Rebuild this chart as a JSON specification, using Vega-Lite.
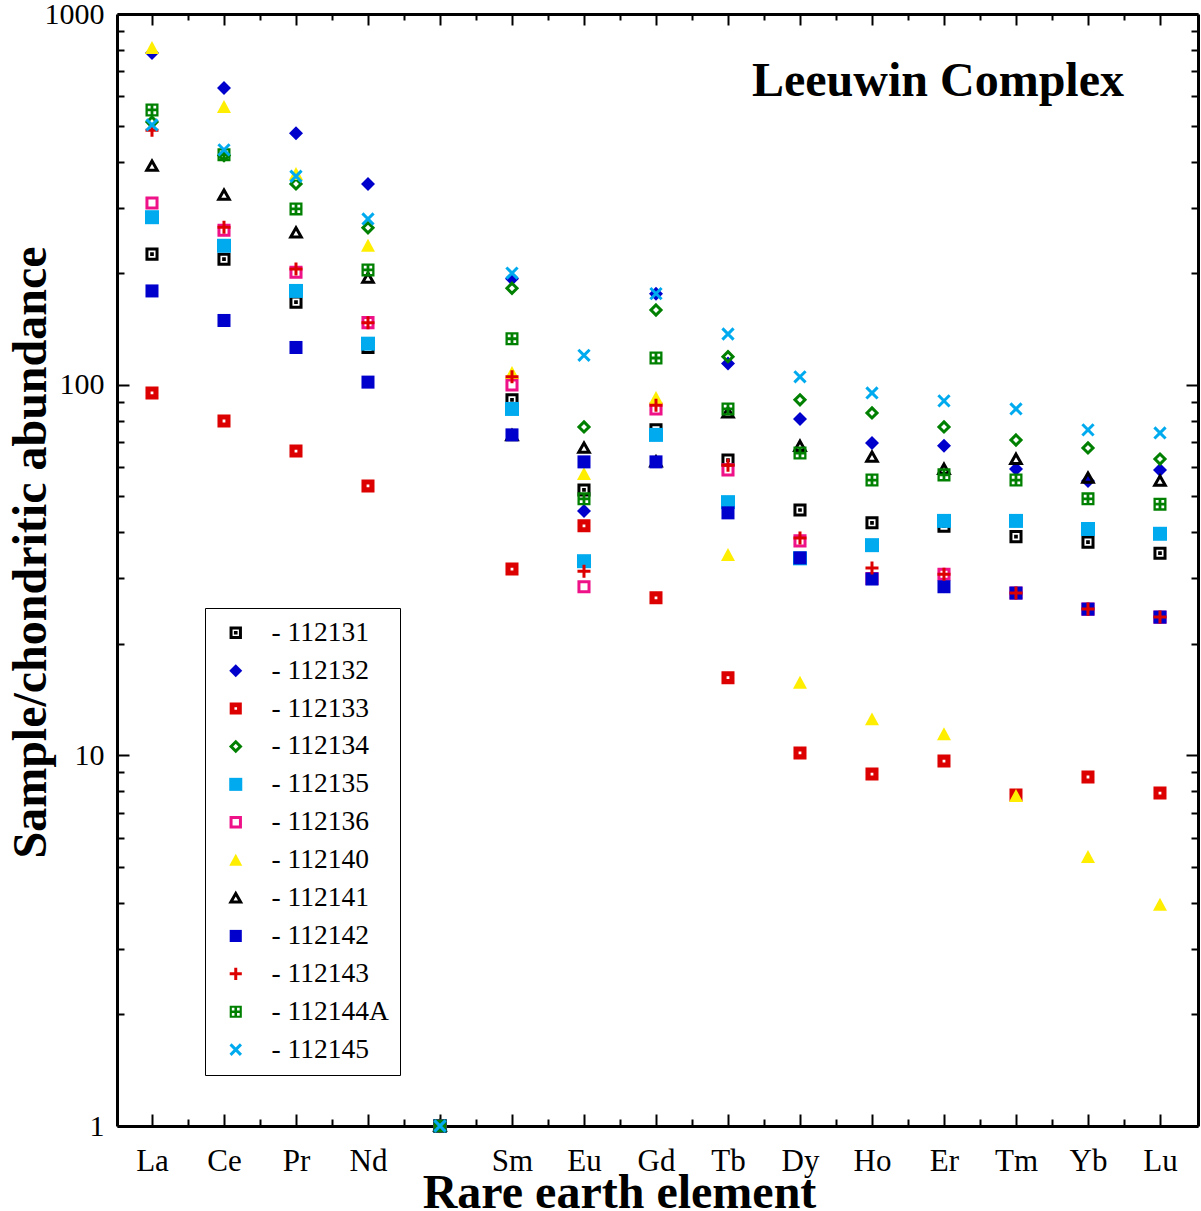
{
  "$schema": "https://vega.github.io/schema/vega-lite/v6.json",
  "width": 1081,
  "height": 1112,
  "autosize": {"type": "none"},
  "padding": {"left": 117, "top": 14, "right": 3, "bottom": 85},
  "background": "white",
  "config": {"view": {"stroke": null}, "font": "Liberation Serif"},
  "datasets": {
    "ree": [
      {"sample":"112131","pos":1,"value":225},{"sample":"112131","pos":2,"value":218},{"sample":"112131","pos":3,"value":167},{"sample":"112131","pos":4,"value":126},{"sample":"112131","pos":5,"value":1},{"sample":"112131","pos":6,"value":91},{"sample":"112131","pos":7,"value":52},{"sample":"112131","pos":8,"value":75.5},{"sample":"112131","pos":9,"value":62.6},{"sample":"112131","pos":10,"value":45.9},{"sample":"112131","pos":11,"value":42.4},{"sample":"112131","pos":12,"value":41.5},{"sample":"112131","pos":13,"value":38.9},{"sample":"112131","pos":14,"value":37.6},{"sample":"112131","pos":15,"value":35.1},
      {"sample":"112132","pos":1,"value":785},{"sample":"112132","pos":2,"value":631},{"sample":"112132","pos":3,"value":477},{"sample":"112132","pos":4,"value":348},{"sample":"112132","pos":5,"value":1},{"sample":"112132","pos":6,"value":193},{"sample":"112132","pos":7,"value":45.6},{"sample":"112132","pos":8,"value":176},{"sample":"112132","pos":9,"value":114},{"sample":"112132","pos":10,"value":80.8},{"sample":"112132","pos":11,"value":69.6},{"sample":"112132","pos":12,"value":68.4},{"sample":"112132","pos":13,"value":59.2},{"sample":"112132","pos":14,"value":55},{"sample":"112132","pos":15,"value":58.9},
      {"sample":"112133","pos":1,"value":95},{"sample":"112133","pos":2,"value":79.8},{"sample":"112133","pos":3,"value":66.2},{"sample":"112133","pos":4,"value":53.3},{"sample":"112133","pos":5,"value":1},{"sample":"112133","pos":6,"value":31.8},{"sample":"112133","pos":7,"value":41.6},{"sample":"112133","pos":8,"value":26.6},{"sample":"112133","pos":9,"value":16.2},{"sample":"112133","pos":10,"value":10.15},{"sample":"112133","pos":11,"value":8.9},{"sample":"112133","pos":12,"value":9.65},{"sample":"112133","pos":13,"value":7.82},{"sample":"112133","pos":14,"value":8.74},{"sample":"112133","pos":15,"value":7.91},
      {"sample":"112134","pos":1,"value":511},{"sample":"112134","pos":2,"value":415},{"sample":"112134","pos":3,"value":348},{"sample":"112134","pos":4,"value":265},{"sample":"112134","pos":5,"value":1},{"sample":"112134","pos":6,"value":182},{"sample":"112134","pos":7,"value":76.9},{"sample":"112134","pos":8,"value":159},{"sample":"112134","pos":9,"value":119},{"sample":"112134","pos":10,"value":91},{"sample":"112134","pos":11,"value":83.9},{"sample":"112134","pos":12,"value":76.9},{"sample":"112134","pos":13,"value":70.9},{"sample":"112134","pos":14,"value":67.5},{"sample":"112134","pos":15,"value":63},
      {"sample":"112135","pos":1,"value":283},{"sample":"112135","pos":2,"value":237},{"sample":"112135","pos":3,"value":179},{"sample":"112135","pos":4,"value":129},{"sample":"112135","pos":5,"value":1},{"sample":"112135","pos":6,"value":86},{"sample":"112135","pos":7,"value":33.4},{"sample":"112135","pos":8,"value":73.2},{"sample":"112135","pos":9,"value":48.2},{"sample":"112135","pos":10,"value":34},{"sample":"112135","pos":11,"value":36.9},{"sample":"112135","pos":12,"value":42.9},{"sample":"112135","pos":13,"value":42.9},{"sample":"112135","pos":14,"value":40.8},{"sample":"112135","pos":15,"value":39.6},
      {"sample":"112136","pos":1,"value":309},{"sample":"112136","pos":2,"value":261},{"sample":"112136","pos":3,"value":201},{"sample":"112136","pos":4,"value":147},{"sample":"112136","pos":5,"value":1},{"sample":"112136","pos":6,"value":99.8},{"sample":"112136","pos":7,"value":28.5},{"sample":"112136","pos":8,"value":86},{"sample":"112136","pos":9,"value":58.9},{"sample":"112136","pos":10,"value":37.9},{"sample":"112136","pos":11,"value":30},{"sample":"112136","pos":12,"value":30.8},{"sample":"112136","pos":13,"value":27.4},{"sample":"112136","pos":14,"value":24.8},{"sample":"112136","pos":15,"value":23.6},
      {"sample":"112140","pos":1,"value":809},{"sample":"112140","pos":2,"value":561},{"sample":"112140","pos":3,"value":370},{"sample":"112140","pos":4,"value":237},{"sample":"112140","pos":5,"value":1},{"sample":"112140","pos":6,"value":107.5},{"sample":"112140","pos":7,"value":57.4},{"sample":"112140","pos":8,"value":92},{"sample":"112140","pos":9,"value":34.7},{"sample":"112140","pos":10,"value":15.7},{"sample":"112140","pos":11,"value":12.5},{"sample":"112140","pos":12,"value":11.4},{"sample":"112140","pos":13,"value":7.77},{"sample":"112140","pos":14,"value":5.32},{"sample":"112140","pos":15,"value":3.95},
      {"sample":"112141","pos":1,"value":389},{"sample":"112141","pos":2,"value":325},{"sample":"112141","pos":3,"value":257},{"sample":"112141","pos":4,"value":194},{"sample":"112141","pos":5,"value":1},{"sample":"112141","pos":6,"value":73},{"sample":"112141","pos":7,"value":67.5},{"sample":"112141","pos":8,"value":62},{"sample":"112141","pos":9,"value":84},{"sample":"112141","pos":10,"value":68.3},{"sample":"112141","pos":11,"value":63.8},{"sample":"112141","pos":12,"value":59.2},{"sample":"112141","pos":13,"value":63},{"sample":"112141","pos":14,"value":56},{"sample":"112141","pos":15,"value":55},
      {"sample":"112142","pos":1,"value":179},{"sample":"112142","pos":2,"value":149},{"sample":"112142","pos":3,"value":126},{"sample":"112142","pos":4,"value":101.6},{"sample":"112142","pos":5,"value":1},{"sample":"112142","pos":6,"value":73.2},{"sample":"112142","pos":7,"value":61.9},{"sample":"112142","pos":8,"value":61.9},{"sample":"112142","pos":9,"value":45.1},{"sample":"112142","pos":10,"value":34.1},{"sample":"112142","pos":11,"value":29.9},{"sample":"112142","pos":12,"value":28.5},{"sample":"112142","pos":13,"value":27.4},{"sample":"112142","pos":14,"value":24.8},{"sample":"112142","pos":15,"value":23.6},
      {"sample":"112143","pos":1,"value":486},{"sample":"112143","pos":2,"value":266},{"sample":"112143","pos":3,"value":205},{"sample":"112143","pos":4,"value":147},{"sample":"112143","pos":5,"value":1},{"sample":"112143","pos":6,"value":105},{"sample":"112143","pos":7,"value":31.4},{"sample":"112143","pos":8,"value":88},{"sample":"112143","pos":9,"value":60.6},{"sample":"112143","pos":10,"value":38.6},{"sample":"112143","pos":11,"value":32},{"sample":"112143","pos":12,"value":30.8},{"sample":"112143","pos":13,"value":27.4},{"sample":"112143","pos":14,"value":24.8},{"sample":"112143","pos":15,"value":23.6},
      {"sample":"112144A","pos":1,"value":551},{"sample":"112144A","pos":2,"value":417},{"sample":"112144A","pos":3,"value":298},{"sample":"112144A","pos":4,"value":204},{"sample":"112144A","pos":5,"value":1},{"sample":"112144A","pos":6,"value":133},{"sample":"112144A","pos":7,"value":49.2},{"sample":"112144A","pos":8,"value":118},{"sample":"112144A","pos":9,"value":86},{"sample":"112144A","pos":10,"value":65.4},{"sample":"112144A","pos":11,"value":55.3},{"sample":"112144A","pos":12,"value":57.1},{"sample":"112144A","pos":13,"value":55.3},{"sample":"112144A","pos":14,"value":49.2},{"sample":"112144A","pos":15,"value":47.6},
      {"sample":"112145","pos":1,"value":502},{"sample":"112145","pos":2,"value":430},{"sample":"112145","pos":3,"value":365},{"sample":"112145","pos":4,"value":280},{"sample":"112145","pos":5,"value":1},{"sample":"112145","pos":6,"value":200},{"sample":"112145","pos":7,"value":120},{"sample":"112145","pos":8,"value":176},{"sample":"112145","pos":9,"value":137},{"sample":"112145","pos":10,"value":105},{"sample":"112145","pos":11,"value":95},{"sample":"112145","pos":12,"value":90.4},{"sample":"112145","pos":13,"value":86},{"sample":"112145","pos":14,"value":75.5},{"sample":"112145","pos":15,"value":74.1}
    ],
    "caption": [{"label": "Leeuwin Complex", "pos": 14.5, "value": 601}]
  },
  "data": {"name": "ree"},
  "layer": [
    {
      "mark": {"type": "point", "opacity": 1, "size": 196, "strokeWidth": 3},
      "encoding": {
        "x": {
          "field": "pos", "type": "quantitative",
          "scale": {"domain": [0.514, 15.528], "nice": false, "zero": false},
          "axis": {
            "orient": "bottom",
            "values": [1,1.5,2,2.5,3,3.5,4,4.5,5,5.5,6,6.5,7,7.5,8,8.5,9,9.5,10,10.5,11,11.5,12,12.5,13,13.5,14,14.5,15],
            "labelExpr": "datum.value % 1 == 0 ? ['','La','Ce','Pr','Nd','','Sm','Eu','Gd','Tb','Dy','Ho','Er','Tm','Yb','Lu'][datum.value] : ''",
            "tickSize": {"condition": {"test": "datum.value % 1 == 0", "value": -12}, "value": -7},
            "tickWidth": 2, "tickColor": "black",
            "domainWidth": 3, "domainColor": "black", "grid": false,
            "labelFont": "Liberation Serif", "labelFontSize": 31, "labelColor": "black",
            "labelPadding": 32, "labelFlush": false, "labelOverlap": false, "labelBound": false,
            "title": "Rare earth element", "titleFont": "Liberation Serif", "titleFontSize": 48,
            "titleFontWeight": "bold", "titleColor": "black",
            "titleX": 502, "titleY": 81, "titleBaseline": "alphabetic", "titleAlign": "center"
          }
        },
        "y": {
          "field": "value", "type": "quantitative",
          "scale": {"type": "log", "domain": [1, 1000], "nice": false},
          "axis": {
            "orient": "left",
            "values": [1,2,3,4,5,6,7,8,9,10,20,30,40,50,60,70,80,90,100,200,300,400,500,600,700,800,900,1000],
            "labelExpr": "indexof([1,10,100,1000], datum.value) >= 0 ? format(datum.value, 'd') : ''",
            "tickSize": {"condition": {"test": "indexof([1,10,100,1000], datum.value) >= 0", "value": -12}, "value": -7},
            "tickWidth": 2, "tickColor": "black",
            "domainWidth": 3, "domainColor": "black", "grid": false,
            "labelFont": "Liberation Serif", "labelFontSize": 30, "labelColor": "black",
            "labelPadding": 25, "labelFlush": false, "labelOverlap": false, "labelBound": false,
            "title": "Sample/chondritic abundance", "titleFont": "Liberation Serif", "titleFontSize": 48,
            "titleFontWeight": "bold", "titleColor": "black",
            "titleX": -72, "titleY": 538, "titleAngle": -90, "titleBaseline": "alphabetic", "titleAlign": "center"
          }
        },
        "shape": {
          "field": "sample", "type": "nominal",
          "scale": {
            "domain": ["112131","112132","112133","112134","112135","112136","112140","112141","112142","112143","112144A","112145"],
            "range": [
              "M-0.72,-0.72H0.72V0.72H-0.72Z M-0.05,-0.05H0.05V0.05H-0.05Z",
              "M0,-1L1,0L0,1L-1,0Z",
              "M-0.93,-0.93H0.93V0.93H-0.93Z M-0.2,-0.2V0.2H0.2V-0.2Z",
              "M0,-0.72L0.72,0L0,0.72L-0.72,0Z",
              "M-1,-1H1V1H-1Z",
              "M-0.72,-0.72H0.72V0.72H-0.72Z",
              "M0,-1L1,0.85L-1,0.85Z",
              "M0,-0.7L0.75,0.62L-0.75,0.62Z",
              "M-0.93,-0.93H0.93V0.93H-0.93Z",
              "M-0.93,0H0.93M0,-0.93V0.93",
              "M-0.93,-0.93H0.93V0.93H-0.93Z M-0.6,-0.6V-0.2H-0.2V-0.6Z M0.2,-0.6V-0.2H0.6V-0.6Z M-0.6,0.2V0.6H-0.2V0.2Z M0.2,0.2V0.6H0.6V0.2Z",
              "M-0.8,-0.8L0.8,0.8M-0.8,0.8L0.8,-0.8"
            ]
          },
          "legend": {
            "orient": "none", "legendX": 88, "legendY": 594, "title": null,
            "labelFont": "Liberation Serif", "labelFontSize": 27.5, "labelColor": "black",
            "labelExpr": "'- ' + datum.label + ' '",
            "strokeColor": "black", "fillColor": "white", "padding": 11, "rowPadding": 8.9,
            "symbolSize": 170, "symbolStrokeWidth": 3, "symbolOffset": 6, "labelOffset": 22
          }
        },
        "fill": {
          "field": "sample", "type": "nominal",
          "scale": {
            "domain": ["112131","112132","112133","112134","112135","112136","112140","112141","112142","112143","112144A","112145"],
            "range": ["transparent","#0000CC","#DD0000","transparent","#00AAEE","transparent","#FFEE00","transparent","#0000CC","transparent","#008000","transparent"]
          },
          "legend": {
            "orient": "none", "legendX": 88, "legendY": 594, "title": null,
            "labelFont": "Liberation Serif", "labelFontSize": 27.5, "labelColor": "black",
            "labelExpr": "'- ' + datum.label + ' '",
            "strokeColor": "black", "fillColor": "white", "padding": 11, "rowPadding": 8.9,
            "symbolSize": 170, "symbolStrokeWidth": 3, "symbolOffset": 6, "labelOffset": 22
          }
        },
        "stroke": {
          "field": "sample", "type": "nominal",
          "scale": {
            "domain": ["112131","112132","112133","112134","112135","112136","112140","112141","112142","112143","112144A","112145"],
            "range": ["#000000","transparent","transparent","#008000","transparent","#EE1188","transparent","#000000","transparent","#DD0000","transparent","#00AAEE"]
          },
          "legend": {
            "orient": "none", "legendX": 88, "legendY": 594, "title": null,
            "labelFont": "Liberation Serif", "labelFontSize": 27.5, "labelColor": "black",
            "labelExpr": "'- ' + datum.label + ' '",
            "strokeColor": "black", "fillColor": "white", "padding": 11, "rowPadding": 8.9,
            "symbolSize": 170, "symbolStrokeWidth": 3, "symbolOffset": 6, "labelOffset": 22
          }
        }
      }
    },
    {
      "mark": {"type": "point", "opacity": 0},
      "encoding": {
        "x": {
          "field": "pos", "type": "quantitative",
          "scale": {"domain": [0.514, 15.528], "nice": false, "zero": false},
          "axis": {
            "orient": "top",
            "values": [1,1.5,2,2.5,3,3.5,4,4.5,5,5.5,6,6.5,7,7.5,8,8.5,9,9.5,10,10.5,11,11.5,12,12.5,13,13.5,14,14.5,15],
            "labels": false, "title": null, "grid": false,
            "tickSize": {"condition": {"test": "datum.value % 1 == 0", "value": -11}, "value": -6},
            "tickWidth": 2, "tickColor": "black", "domainWidth": 3, "domainColor": "black"
          }
        },
        "y": {
          "field": "value", "type": "quantitative",
          "scale": {"type": "log", "domain": [1, 1000], "nice": false},
          "axis": {
            "orient": "right",
            "values": [1,2,3,4,5,6,7,8,9,10,20,30,40,50,60,70,80,90,100,200,300,400,500,600,700,800,900,1000],
            "labels": false, "title": null, "grid": false,
            "tickSize": {"condition": {"test": "indexof([1,10,100,1000], datum.value) >= 0", "value": -12}, "value": -7},
            "tickWidth": 2, "tickColor": "black", "domainWidth": 3, "domainColor": "black"
          }
        }
      }
    },
    {
      "data": {"name": "caption"},
      "mark": {"type": "text", "align": "right", "baseline": "alphabetic", "font": "Liberation Serif", "fontSize": 48, "fontWeight": "bold", "color": "black"},
      "encoding": {
        "x": {"field": "pos", "type": "quantitative", "axis": null, "scale": {"domain": [0.514, 15.528], "nice": false, "zero": false}},
        "y": {"field": "value", "type": "quantitative", "axis": null, "scale": {"type": "log", "domain": [1, 1000], "nice": false}},
        "text": {"field": "label"}
      }
    }
  ],
  "resolve": {"axis": {"x": "independent", "y": "independent"}}
}
